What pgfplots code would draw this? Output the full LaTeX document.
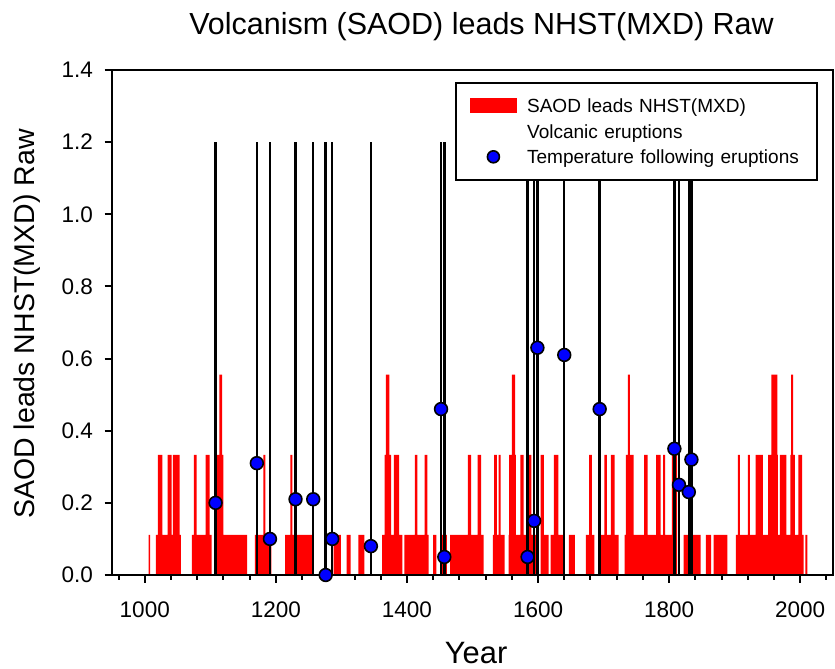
\documentclass[border=0pt]{standalone}
\usepackage{fontspec}
\setmainfont{Liberation Sans}
\usepackage{pgfplots}
\pgfplotsset{compat=1.18}

\begin{document}
\begin{tikzpicture}
\begin{axis}[
    width=360.5bp, height=252.5bp, scale only axis,
    xmin=950, xmax=2050, ymin=0, ymax=1.4,
    clip=false, axis on top,
    xtick={1000,1200,1400,1600,1800,2000},
    minor xtick={960,1040,1080,1120,1160,1240,1280,1320,1360,1440,1480,1520,1560,1640,1680,1720,1760,1840,1880,1920,1960,2040},
    ytick={0,0.2,0.4,0.6,0.8,1.0,1.2,1.4},
    tick pos=left, tick align=outside,
    major tick length=3.75bp, minor tick length=2.25bp,
    every axis/.append style={line width=1bp},
    tick style={line width=1bp, black},
    /pgf/number format/assume math mode=true,
    ticklabel style={font=\fontsize{11.3}{13}\selectfont},
    xticklabel style={/pgf/number format/1000 sep={}, yshift=-6bp},
    yticklabel style={/pgf/number format/fixed, /pgf/number format/fixed zerofill,
        /pgf/number format/precision=1, xshift=-2bp},
    title={Volcanism (SAOD) leads NHST(MXD) Raw},
    title style={at={(axis description cs:0.5125,1.0475)}, anchor=base, font=\fontsize{15.3}{18}\selectfont},
    xlabel={Year},
    xlabel style={at={(axis description cs:0.505,-0.176)}, anchor=base, font=\fontsize{15.5}{18}\selectfont},
    ylabel={SAOD leads NHST(MXD) Raw},
    ylabel style={at={(axis description cs:-0.1068,0.497)}, anchor=base, rotate=0, font=\fontsize{14.3}{17}\selectfont},
    legend cell align=left,
    legend style={at={(0.979,0.976)}, anchor=north east, draw=black, line width=0.75bp, fill=white,
        inner xsep=0pt, inner ysep=5.1bp, row sep=0pt, column sep=0pt,
        font=\fontsize{9.55}{11}\selectfont,
        nodes={inner sep=0pt, text height=9.795bp, text depth=2.955bp, text width=145bp, align=left}},
]
% SAOD leads NHST(MXD): step series (value holds from year until next entry)
\addplot[const plot, fill=red, draw=none,
    legend image code/.code={\path[draw=none, fill=none] (0,-6.375bp) rectangle (35.5bp,6.375bp);
        \fill[red] (6.9bp,-3.75bp) rectangle (30.4bp,3.75bp);}]
coordinates {
(1006,0.1111) (1008,0) (1017,0.1111) (1020,0.3333) (1027,0.1111) (1035,0.3333)
(1041,0.1111) (1043,0.3333) (1053,0.1111) (1055,0) (1072,0.1111) (1075,0.3333)
(1079,0.1111) (1093,0.3333) (1099,0.1111) (1102,0) (1110,0.3333) (1114,0.5556)
(1118,0.3333) (1120,0.1111) (1156,0) (1168,0.1111) (1181,0.3333) (1184,0.1111)
(1193,0) (1214,0.1111) (1222,0.3333) (1225,0.1111) (1257,0) (1288,0.1111)
(1299,0) (1308,0.1111) (1314,0) (1326,0.1111) (1335,0) (1362,0.1111)
(1366,0.3333) (1368,0.5556) (1373,0.3333) (1376,0.1111) (1380,0.3333) (1388,0.1111)
(1393,0) (1396,0.1111) (1412,0.3333) (1416,0.1111) (1427,0.3333) (1431,0.1111)
(1433,0) (1440,0.1111) (1445,0) (1453,0.1111) (1461,0) (1466,0.1111)
(1493,0.3333) (1498,0.1111) (1508,0.3333) (1513,0.1111) (1517,0) (1531,0.1111)
(1533,0.3333) (1537,0.1111) (1540,0.3333) (1543,0.1111) (1549,0) (1555,0.1111)
(1556,0.3333) (1560,0.5556) (1565,0.3333) (1566,0.1111) (1573,0.3333) (1578,0.1111)
(1585,0.3333) (1590,0.1111) (1601,0) (1604,0.3333) (1609,0.1111) (1616,0)
(1619,0.1111) (1624,0.3333) (1631,0.1111) (1639,0) (1647,0.1111) (1656,0)
(1673,0.1111) (1678,0.3333) (1682,0.1111) (1686,0) (1696,0.1111) (1701,0.3333)
(1705,0.1111) (1711,0.3333) (1717,0.1111) (1723,0) (1732,0.1111) (1734,0.3333)
(1737,0.5556) (1740,0.3333) (1746,0.1111) (1762,0.3333) (1767,0.1111) (1780,0.3333)
(1787,0.1111) (1791,0.3333) (1794,0.1111) (1804,0.3333) (1806,0.5556) (1809,0.3333)
(1812,0) (1822,0.1111) (1848,0) (1856,0.1111) (1864,0) (1868,0.1111)
(1889,0) (1902,0.1111) (1905,0.3333) (1908,0.1111) (1920,0.3333) (1923,0.1111)
(1932,0.3333) (1943,0.1111) (1951,0.3333) (1956,0.5556) (1965,0.3333) (1966,0.1111)
(1969,0.3333) (1979,0.1111) (1985,0.3333) (1986,0.5556) (1989,0.3333) (1992,0.1111)
(1997,0.3333) (2003,0.1111) (2005,0) (2008,0.1111) (2011,0)
} \closedcycle;
\addlegendentry{SAOD leads NHST(MXD)}

% volcanic eruptions
\addplot[ycomb, black, line width=1.2bp, no marks, forget plot] coordinates {
(1108,1.2) (1171,1.2) (1191,1.2) (1230,1.2) (1257,1.2) (1276,1.2) (1286,1.2)
(1345,1.2) (1452,1.2) (1457,1.2) (1584,1.2) (1594,1.2) (1599,1.2) (1640,1.2)
(1694,1.2) (1808,1.2) (1815,1.2) (1830,1.2) (1834,1.2)
};
\addlegendimage{legend image code/.code={\path[draw=none, fill=none] (0,-6.375bp) rectangle (35.5bp,6.375bp);}}
\addlegendentry{Volcanic eruptions}

% temperature following eruptions
\addplot[only marks, mark=*, mark size=3.2bp, mark options={fill=blue, draw=black, line width=0.8bp},
    legend image code/.code={\path[draw=none, fill=none] (0,-6.375bp) rectangle (35.5bp,6.375bp);
        \draw[black, fill=blue, line width=0.8bp] (18.65bp,0) circle (3bp);}]
coordinates {
(1108,0.20) (1171,0.31) (1191,0.10) (1230,0.21) (1257,0.21) (1276,0.00) (1286,0.10)
(1345,0.08) (1452,0.46) (1457,0.05) (1584,0.05) (1594,0.15) (1599,0.63) (1640,0.61)
(1694,0.46) (1808,0.35) (1815,0.25) (1830,0.23) (1834,0.32)
};
\addlegendentry{Temperature following eruptions}
\end{axis}
\pgfresetboundingbox
\path (-56bp,-47bp) rectangle (361.5bp,287.5bp);
\end{tikzpicture}
\end{document}
